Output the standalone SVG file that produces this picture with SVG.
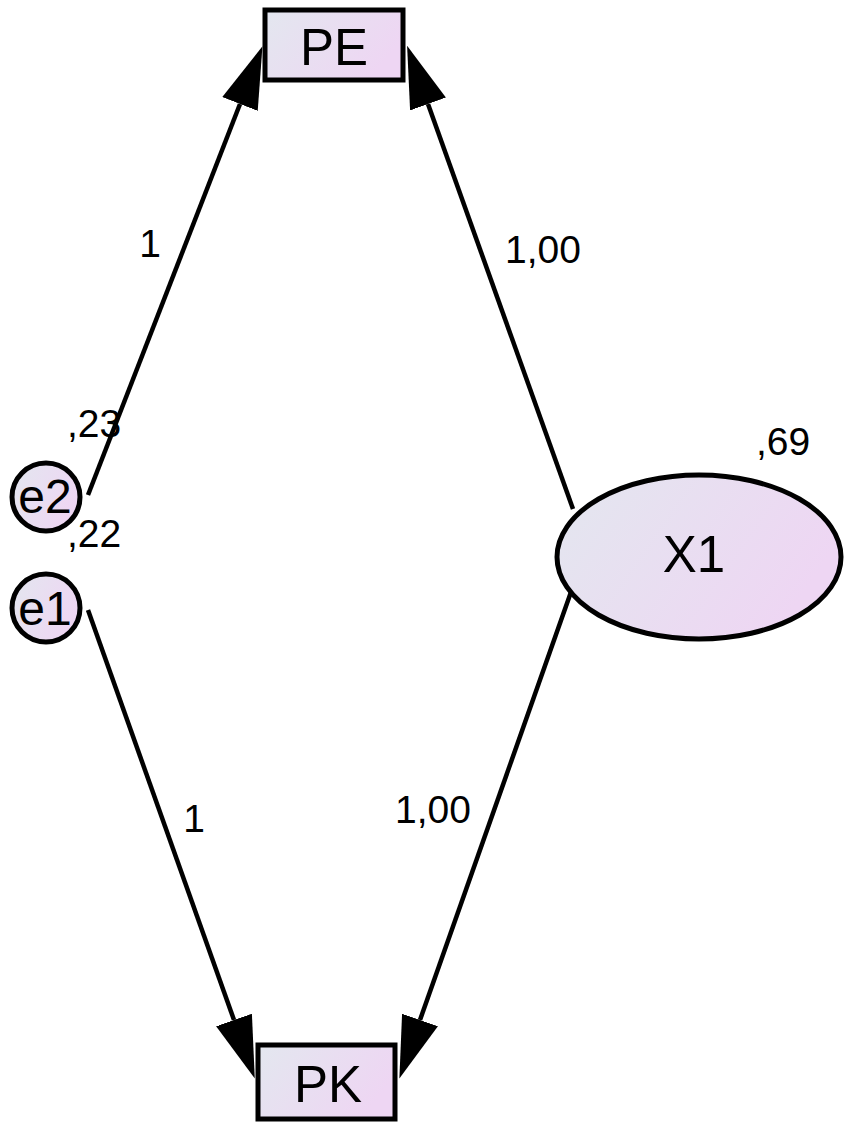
<svg xmlns="http://www.w3.org/2000/svg" width="851" height="1130" viewBox="0 0 851 1130">
<defs>
<linearGradient id="fillg" x1="0" y1="0" x2="1" y2="0.4">
<stop offset="0" stop-color="#e3e7ef"/>
<stop offset="1" stop-color="#eed6f3"/>
</linearGradient>
<marker id="arr" markerUnits="userSpaceOnUse" markerWidth="64" markerHeight="44" viewBox="0 -22 64 44" refX="0" refY="0" orient="auto">
<path d="M0,-19 L62,0 L0,19 Z" fill="#000"/>
</marker>
<style>
.node{fill:url(#fillg);stroke:#000;stroke-width:5}
.lbl{font-family:"Liberation Sans",Arial,sans-serif;fill:#000;text-anchor:middle}
.big{font-size:51px}
.med{font-size:48px}
.num{font-size:39px}
.conn{stroke:#000;stroke-width:4.5;fill:none;marker-end:url(#arr)}
</style>
</defs>
<rect width="851" height="1130" fill="#fff"/>
<g id="connectors">
<line class="conn" x1="88" y1="495" x2="240" y2="104"/>
<line class="conn" x1="573" y1="509" x2="428" y2="104"/>
<line class="conn" x1="88" y1="610" x2="234" y2="1020"/>
<line class="conn" x1="571" y1="592" x2="420" y2="1020"/>
</g>
<g id="PE">
<rect class="node" x="265" y="10" width="138" height="70"/>
<text class="lbl big" x="334" y="65">PE</text>
</g>
<g id="PK">
<rect class="node" x="258" y="1045" width="137" height="74"/>
<text class="lbl big" x="328" y="1102">PK</text>
</g>
<g id="X1">
<ellipse class="node" cx="699" cy="557" rx="142" ry="82"/>
<text class="lbl big" x="694" y="572">X1</text>
<text class="lbl num" x="783" y="455">,69</text>
</g>
<g id="e2">
<circle class="node" cx="46" cy="497" r="34"/>
<text class="lbl med" x="45" y="513">e2</text>
<text class="lbl num" x="94" y="437">,23</text>
</g>
<g id="e1">
<circle class="node" cx="46" cy="608" r="34"/>
<text class="lbl med" x="45" y="625">e1</text>
<text class="lbl num" x="94" y="547">,22</text>
</g>
<g id="labels">
<text class="lbl num" x="150" y="257">1</text>
<text class="lbl num" x="543" y="263">1,00</text>
<text class="lbl num" x="194" y="832">1</text>
<text class="lbl num" x="433" y="823">1,00</text>
</g>
</svg>
